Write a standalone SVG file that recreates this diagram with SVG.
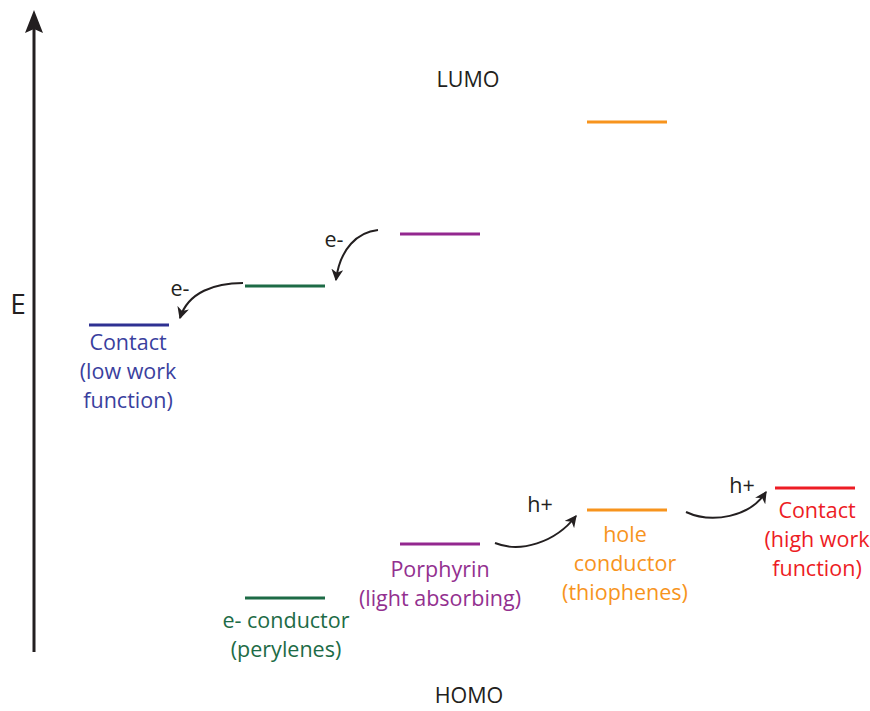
<svg xmlns="http://www.w3.org/2000/svg" width="870" height="711" viewBox="0 0 870 711">
<defs>
<marker id="ah" viewBox="0 0 10 10" refX="9" refY="5" markerWidth="6" markerHeight="6" orient="auto" markerUnits="strokeWidth">
<path d="M0,0 L10,5 L0,10 L3,5 Z" fill="#231f20"/>
</marker>
<style>
text{font-family:"Open Sans","Liberation Sans",sans-serif;font-size:21.5px;text-anchor:middle}
.lvl{stroke-width:3;fill:none}
.arr{stroke:#231f20;stroke-width:2;fill:none;marker-end:url(#ah)}
.k{fill:#231f20}
.blue{fill:#3a3f9e}.green{fill:#1d6b46}.purple{fill:#93308f}.orange{fill:#f7941d}.red{fill:#ed1c24}
</style>
</defs>
<rect width="870" height="711" fill="#fff"/>
<g id="axis">
<line x1="34" y1="652" x2="34" y2="28" stroke="#231f20" stroke-width="3"/>
<path d="M34,10 L43,33 L34,29 L25,33 Z" fill="#231f20"/>
<text x="18" y="314" class="k" style="font-size:28px">E</text>
</g>
<text id="lumo" x="468" y="87" class="k">LUMO</text>
<text id="homo" x="469" y="703" class="k">HOMO</text>
<g id="contact-low">
<line class="lvl" x1="89" y1="325" x2="169" y2="325" stroke="#2e3192"/>
<text class="blue" x="128" y="350">Contact</text>
<text class="blue" x="128" y="379">(low work</text>
<text class="blue" x="128" y="408">function)</text>
</g>
<g id="e-conductor">
<line class="lvl" x1="245" y1="286" x2="325" y2="286" stroke="#1d6b46"/>
<line class="lvl" x1="245" y1="598" x2="325" y2="598" stroke="#1d6b46"/>
<text class="green" x="286" y="628">e- conductor</text>
<text class="green" x="286" y="657">(perylenes)</text>
</g>
<g id="porphyrin">
<line class="lvl" x1="400" y1="234" x2="480" y2="234" stroke="#93278f"/>
<line class="lvl" x1="400" y1="544" x2="480" y2="544" stroke="#93278f"/>
<text class="purple" x="440" y="577">Porphyrin</text>
<text class="purple" x="440" y="606">(light absorbing)</text>
</g>
<g id="hole-conductor">
<line class="lvl" x1="587" y1="122" x2="667" y2="122" stroke="#f7941d"/>
<line class="lvl" x1="587" y1="510" x2="667" y2="510" stroke="#f7941d"/>
<text class="orange" x="625" y="542">hole</text>
<text class="orange" x="625" y="571">conductor</text>
<text class="orange" x="625" y="600">(thiophenes)</text>
</g>
<g id="contact-high">
<line class="lvl" x1="775" y1="488" x2="855" y2="488" stroke="#ed1c24"/>
<text class="red" x="817" y="518">Contact</text>
<text class="red" x="817" y="547">(high work</text>
<text class="red" x="817" y="576">function)</text>
</g>
<g id="connectors">
<path class="arr" d="M378,230 C358,232 340,248 336,280"/>
<text class="k" x="334" y="247">e-</text>
<path class="arr" d="M243,283 C215,283 188,292 180,318"/>
<text class="k" x="180" y="296">e-</text>
<path class="arr" d="M495,543 C520,553 555,543 576,516"/>
<text class="k" x="540" y="512">h+</text>
<path class="arr" d="M686,512 C712,524 750,517 766,492"/>
<text class="k" x="742" y="493">h+</text>
</g>
</svg>
